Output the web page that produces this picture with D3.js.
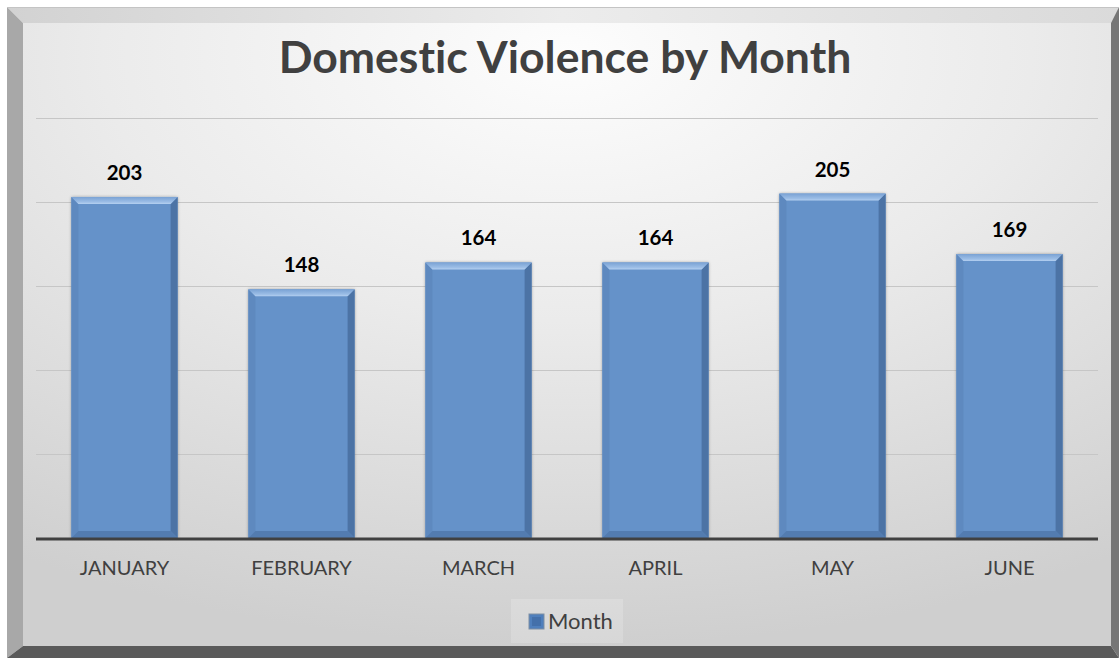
<!DOCTYPE html>
<html>
<head>
<meta charset="utf-8">
<script src="https://cdn.jsdelivr.net/npm/d3@7"></script>
<style>
  body { margin: 0; background: #fff; }
  svg { display: block; }
  text { font-variant-ligatures: none; font-feature-settings: "liga" 0, "dlig" 0; }
</style>
</head>
<body>
<div id="chart"></div>
<script>
// chart data
var months = ["JANUARY", "FEBRUARY", "MARCH", "APRIL", "MAY", "JUNE"];
var counts = [203, 148, 164, 164, 205, 169];
var gridTicks = [0, 50, 100, 150, 200, 250];
var seriesName = "Month";
var chartTitle = "Domestic Violence by Month";

var svgWidth = 1119, svgHeight = 658;
var plot = { left: 36, right: 1098, top: 118, bottom: 538 };

var svg = d3.select("#chart").append("svg")
  .attr("width", svgWidth)
  .attr("height", svgHeight);

var defs = svg.append("defs");

// background gradient of the chart area
var bg = defs.append("radialGradient")
  .attr("id", "bgGrad")
  .attr("cx", "50%").attr("cy", "5%")
  .attr("r", "95%");
bg.append("stop").attr("offset", "0%").attr("stop-color", "#fdfdfd");
bg.append("stop").attr("offset", "45%").attr("stop-color", "#ebebeb");
bg.append("stop").attr("offset", "100%").attr("stop-color", "#cfcfcf");

var topBevel = defs.append("linearGradient")
  .attr("id", "topBevel").attr("x1", 0).attr("x2", 1).attr("y1", 0).attr("y2", 0);
topBevel.append("stop").attr("offset", "0%").attr("stop-color", "#d2d2d2");
topBevel.append("stop").attr("offset", "50%").attr("stop-color", "#ececec");
topBevel.append("stop").attr("offset", "100%").attr("stop-color", "#dadada");

var barTop = defs.append("linearGradient")
  .attr("id", "barTop").attr("x1", 0).attr("x2", 0).attr("y1", 0).attr("y2", 1);
barTop.append("stop").attr("offset", "0%").attr("stop-color", "#7aa2d4");
barTop.append("stop").attr("offset", "70%").attr("stop-color", "#9bbde6");
barTop.append("stop").attr("offset", "100%").attr("stop-color", "#b5d0f0");

var shadow = defs.append("filter").attr("id", "barShadow")
  .attr("x", "-10%").attr("y", "-10%").attr("width", "120%").attr("height", "120%");
shadow.append("feGaussianBlur").attr("in", "SourceAlpha").attr("stdDeviation", 1.5);
shadow.append("feOffset").attr("dx", 0).attr("dy", 0).attr("result", "blur");
shadow.append("feComponentTransfer").append("feFuncA").attr("type", "linear").attr("slope", 0.35);
var merge = shadow.append("feMerge");
merge.append("feMergeNode");
merge.append("feMergeNode").attr("in", "SourceGraphic");

// frame with bevel
var L = 7, T = 7, R = 1119, B = 658, iL = 23, iT = 23, iR = 1111, iB = 646;
svg.append("rect")
  .attr("x", iL).attr("y", iT)
  .attr("width", iR - iL).attr("height", iB - iT)
  .attr("fill", "url(#bgGrad)");
svg.append("polygon")
  .attr("points", [[L, T], [R, T], [iR, iT], [iL, iT]].join(" "))
  .attr("fill", "url(#topBevel)");
svg.append("polygon")
  .attr("points", [[L, T], [iL, iT], [iL, iB], [L, B]].join(" "))
  .attr("fill", "#a8a8a8");
svg.append("polygon")
  .attr("points", [[R, T], [R, B], [iR, iB], [iR, iT]].join(" "))
  .attr("fill", "#767676");
svg.append("polygon")
  .attr("points", [[L, B], [iL, iB], [iR, iB], [R, B]].join(" "))
  .attr("fill", "#5a5a5a");
svg.append("line")
  .attr("x1", L).attr("x2", R).attr("y1", T + 0.5).attr("y2", T + 0.5)
  .attr("stroke", "#c4c4c4");

// scales
var xScale = d3.scaleBand()
  .domain(months)
  .range([plot.left, plot.right])
  .paddingInner(0.4)
  .paddingOuter(0.2);

var yScale = d3.scaleLinear()
  .domain([0, 250])
  .range([plot.bottom, plot.top]);

// gridlines
svg.append("g").selectAll("line")
  .data(gridTicks.slice(1))
  .enter()
  .append("line")
  .attr("x1", plot.left).attr("x2", plot.right)
  .attr("y1", d => Math.round(yScale(d)) + 0.5)
  .attr("y2", d => Math.round(yScale(d)) + 0.5)
  .attr("stroke", "#c6c6c6")
  .attr("stroke-width", 1);

// title
svg.append("text")
  .attr("x", 565)
  .attr("y", 73)
  .attr("text-anchor", "middle")
  .attr("font-family", "Lato, 'Open Sans', sans-serif")
  .attr("font-weight", "bold")
  .attr("font-size", "44.5px")
  .attr("fill", "#404040")
  .text(chartTitle);

// bars with bevel
var bv = 7;
var bars = svg.append("g").selectAll("g.bar")
  .data(counts)
  .enter()
  .append("g")
  .attr("class", "bar");

bars.append("rect")
  .attr("x", (d, i) => xScale(months[i]))
  .attr("y", d => yScale(d))
  .attr("width", xScale.bandwidth())
  .attr("height", d => yScale(0) - yScale(d))
  .attr("fill", "#6592c9")
  .attr("filter", "url(#barShadow)");

function barPoly(d, i, side) {
  var x0 = xScale(months[i]), x1 = x0 + xScale.bandwidth();
  var y0 = yScale(d), y1 = yScale(0);
  if (side === "top") return [[x0, y0], [x1, y0], [x1 - bv, y0 + bv], [x0 + bv, y0 + bv]].join(" ");
  if (side === "left") return [[x0, y0], [x0 + bv, y0 + bv], [x0 + bv, y1 - bv], [x0, y1]].join(" ");
  if (side === "right") return [[x1, y0], [x1, y1], [x1 - bv, y1 - bv], [x1 - bv, y0 + bv]].join(" ");
  return [[x0, y1], [x0 + bv, y1 - bv], [x1 - bv, y1 - bv], [x1, y1]].join(" ");
}

bars.append("polygon")
  .attr("points", (d, i) => barPoly(d, i, "left"))
  .attr("fill", "#5e89bf");
bars.append("polygon")
  .attr("points", (d, i) => barPoly(d, i, "right"))
  .attr("fill", "#4c73a5");
bars.append("polygon")
  .attr("points", (d, i) => barPoly(d, i, "bottom"))
  .attr("fill", "#537cb0");
bars.append("polygon")
  .attr("points", (d, i) => barPoly(d, i, "top"))
  .attr("fill", "url(#barTop)");

// value labels
svg.append("g").selectAll("text")
  .data(counts)
  .enter()
  .append("text")
  .attr("x", (d, i) => xScale(months[i]) + xScale.bandwidth() / 2)
  .attr("y", d => yScale(d) - 17)
  .attr("text-anchor", "middle")
  .attr("font-family", "Lato, 'Open Sans', sans-serif")
  .attr("font-weight", "bold")
  .attr("font-size", "20.5px")
  .attr("fill", "#000")
  .text(d => d);

// x axis baseline and labels
svg.append("line")
  .attr("x1", plot.left).attr("x2", plot.right)
  .attr("y1", plot.bottom + 1).attr("y2", plot.bottom + 1)
  .attr("stroke", "#404040")
  .attr("stroke-width", 3);

var xAxis = d3.axisBottom(xScale).tickSize(0).tickPadding(0);
var axisG = svg.append("g")
  .attr("transform", `translate(0, ${plot.bottom})`)
  .call(xAxis);
axisG.select(".domain").remove();
axisG.selectAll("text")
  .attr("dy", null)
  .attr("y", 37)
  .attr("font-family", "Lato, 'Open Sans', sans-serif")
  .attr("font-size", "20px")
  .attr("fill", "#404040");

// legend
var legend = svg.append("g");
legend.append("rect")
  .attr("x", 511).attr("y", 599)
  .attr("width", 112).attr("height", 44)
  .attr("fill", "#ffffff").attr("fill-opacity", 0.18);
legend.append("rect")
  .attr("x", 529).attr("y", 614)
  .attr("width", 15).attr("height", 15)
  .attr("fill", "#4f7fbc")
  .attr("stroke", "#7f8fa3").attr("stroke-width", 1);
legend.append("rect")
  .attr("x", 532).attr("y", 617)
  .attr("width", 9).attr("height", 9)
  .attr("fill", "#4470aa");
legend.append("text")
  .attr("x", 548).attr("y", 629)
  .attr("font-family", "Lato, 'Open Sans', sans-serif")
  .attr("font-size", "22px")
  .attr("fill", "#404040")
  .text(seriesName);
</script>
</body>
</html>
